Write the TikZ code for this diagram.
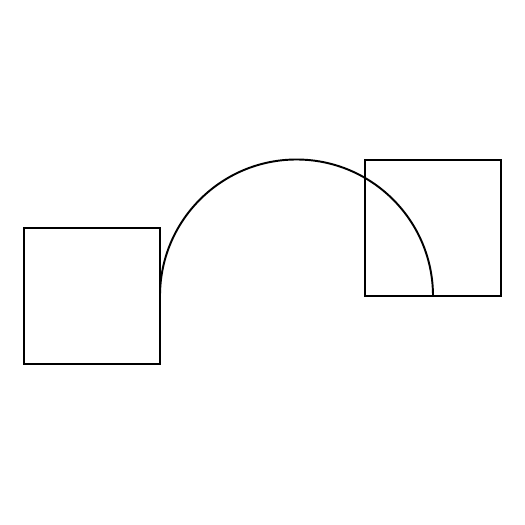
\documentclass[tikz,border=0pt]{standalone}
\usepackage{tikz}
\usetikzlibrary{positioning}

\begin{document}
\begin{tikzpicture}[sq/.style={draw,line width=1.1pt,minimum size=2.72cm,inner sep=0pt,outer sep=0pt}]
\useasboundingbox (0,0) rectangle (10.5,10.5);
\node[sq] (left) at (1.84,4.58) {};
\node[sq] (right) at (8.66,5.94) {};
\draw[line width=1.1pt] (left.east) arc[start angle=180,end angle=0,radius=2.73cm] -- (right.south);
\end{tikzpicture}
\end{document}
